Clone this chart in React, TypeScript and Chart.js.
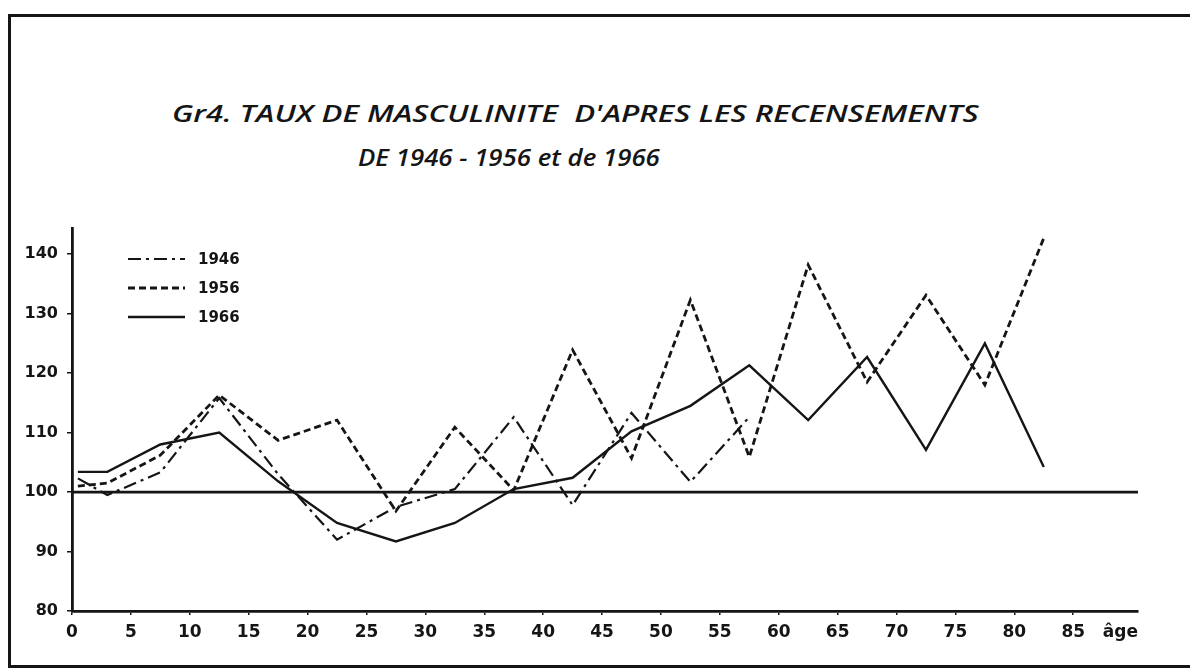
import React, { useEffect, useRef } from "react";
import { Chart, registerables } from "chart.js";

Chart.register(...registerables);

// Age-group midpoints (years)
const AGES = [0.5, 3, 7.5, 12.5, 17.5, 22.5, 27.5, 32.5, 37.5, 42.5, 47.5, 52.5, 57.5, 62.5, 67.5, 72.5, 77.5, 82.5];
// Masculinity rate (men per 100 women)
const TAUX_1946 = [102.3, 99.5, 103.3, 115.8, 103, 92, 97.5, 100.5, 112.6, 97.8, 113.3, 101.7, 112.6];
const TAUX_1956 = [101, 101.5, 106.2, 116.3, 108.7, 112.1, 96.8, 110.9, 100.3, 123.9, 105.7, 132.3, 105.9, 138.2, 118.5, 133.1, 118.0, 142.7];
const TAUX_1966 = [103.4, 103.4, 108, 110, 101.8, 94.8, 91.7, 94.8, 100.5, 102.4, 110.2, 114.5, 121.3, 112.1, 122.7, 107.1, 125.0, 104.2];

const SERIES_LABELS = ["1946", "1956", "1966"];
const X_TICKS = [0, 5, 10, 15, 20, 25, 30, 35, 40, 45, 50, 55, 60, 65, 70, 75, 80, 85];
const X_AXIS_LABEL = "âge";
const X_AXIS_LABEL_AT = 89;
const Y_TICKS = [80, 90, 100, 110, 120, 130, 140];
const REFERENCE_VALUE = 100;
const TITLE_LINE_1 = "Gr4. TAUX DE MASCULINITE  D'APRES LES RECENSEMENTS";
const TITLE_LINE_2 = "DE 1946 - 1956 et de 1966";

const INK = "#151515";
const LABEL_FONT = "'DejaVu Sans', 'Open Sans', sans-serif";
const TITLE_FONT = "'Open Sans', 'DejaVu Sans', sans-serif";

const toPoints = (vals: number[]) => vals.map((v, i) => ({ x: AGES[i], y: v }));

export default function App() {
  const canvasRef = useRef<HTMLCanvasElement | null>(null);

  useEffect(() => {
    const canvas = canvasRef.current;
    if (!canvas) return;

    const referenceLine = {
      id: "referenceLine",
      beforeDatasetsDraw(chart: any) {
        const { ctx, chartArea, scales } = chart;
        const y = scales.y.getPixelForValue(REFERENCE_VALUE);
        ctx.save();
        ctx.strokeStyle = INK;
        ctx.lineWidth = 2.8;
        ctx.beginPath();
        ctx.moveTo(chartArea.left, y);
        ctx.lineTo(chartArea.right, y);
        ctx.stroke();
        ctx.restore();
      },
    };

    const customLegend = {
      id: "customLegend",
      afterDraw(chart: any) {
        const { ctx, chartArea } = chart;
        ctx.save();
        chart.data.datasets.forEach((ds: any, i: number) => {
          const y = chartArea.top + 31 + i * 29;
          const x0 = chartArea.left + 56;
          ctx.strokeStyle = INK;
          ctx.lineWidth = ds.borderWidth;
          ctx.setLineDash(ds.borderDash || []);
          ctx.beginPath();
          ctx.moveTo(x0, y);
          ctx.lineTo(x0 + 57, y);
          ctx.stroke();
          ctx.setLineDash([]);
          ctx.fillStyle = INK;
          ctx.font = `bold 15px ${LABEL_FONT}`;
          ctx.textBaseline = "middle";
          ctx.textAlign = "left";
          ctx.fillText(ds.label, x0 + 70, y + 1);
        });
        ctx.restore();
      },
    };

    const chart = new Chart(canvas, {
      type: "line",
      data: {
        datasets: [
          {
            label: SERIES_LABELS[0],
            data: toPoints(TAUX_1946),
            borderColor: INK,
            borderWidth: 2.2,
            borderDash: [13, 5, 3, 5],
            pointRadius: 0,
            tension: 0,
            fill: false,
          },
          {
            label: SERIES_LABELS[1],
            data: toPoints(TAUX_1956),
            borderColor: INK,
            borderWidth: 2.8,
            borderDash: [7, 4],
            pointRadius: 0,
            tension: 0,
            fill: false,
          },
          {
            label: SERIES_LABELS[2],
            data: toPoints(TAUX_1966),
            borderColor: INK,
            borderWidth: 2.4,
            pointRadius: 0,
            tension: 0,
            fill: false,
          },
        ],
      },
      options: {
        animation: false,
        responsive: false,
        maintainAspectRatio: false,
        layout: { padding: { left: 0, top: 228, right: 52, bottom: 0 } },
        plugins: {
          legend: { display: false },
          tooltip: { enabled: false },
          title: { display: false },
        },
        scales: {
          x: {
            type: "linear",
            min: 0,
            max: 90.5,
            afterBuildTicks: (s: any) => {
              s.ticks = [...X_TICKS, X_AXIS_LABEL_AT].map((v) => ({ value: v }));
            },
            afterFit: (s: any) => {
              s.height = 60;
            },
            grid: {
              drawOnChartArea: false,
              drawTicks: true,
              tickLength: 4,
              lineWidth: 1.5,
              color: (c: any) => (c.tick && c.tick.value === X_AXIS_LABEL_AT ? "rgba(0,0,0,0)" : INK),
            },
            border: { display: true, color: INK, width: 2.8 },
            ticks: {
              autoSkip: false,
              maxRotation: 0,
              padding: 7,
              color: INK,
              font: { family: LABEL_FONT, size: 17, weight: "bold" as any },
              callback: (v: any) => (v === X_AXIS_LABEL_AT ? X_AXIS_LABEL : String(v)),
            },
          },
          y: {
            type: "linear",
            min: 80,
            max: 144.4,
            afterBuildTicks: (s: any) => {
              s.ticks = Y_TICKS.map((v) => ({ value: v }));
            },
            afterFit: (s: any) => {
              s.width = 72;
            },
            grid: {
              drawOnChartArea: false,
              drawTicks: true,
              tickLength: 5,
              lineWidth: 1.5,
              color: INK,
            },
            border: { display: true, color: INK, width: 2.8 },
            ticks: {
              padding: 9,
              color: INK,
              font: { family: LABEL_FONT, size: 16, weight: "bold" as any },
              callback: (v: any) => String(v),
            },
          },
        },
      },
      plugins: [referenceLine, customLegend],
    } as any);

    return () => chart.destroy();
  }, []);

  const titleStyle = {
    position: "absolute" as const,
    whiteSpace: "pre" as const,
    fontFamily: TITLE_FONT,
    fontStyle: "italic",
    fontWeight: 600,
    fontSize: 24,
    lineHeight: "32px",
    color: INK,
    transformOrigin: "left center",
  };

  return (
    <div
      style={{
        position: "fixed",
        left: 0,
        top: 0,
        width: 1190,
        height: 671,
        overflow: "hidden",
        background: "#fff",
      }}
    >
      <div
        style={{
          position: "absolute",
          left: 8,
          top: 14,
          width: 2400,
          height: 654,
          borderTop: `3px solid ${INK}`,
          borderLeft: `3px solid ${INK}`,
          borderBottom: `3px solid ${INK}`,
          borderRight: "none",
          boxSizing: "border-box",
        }}
      />
      <div style={{ ...titleStyle, left: 172, top: 97, transform: "scaleX(1.3)" }}>{TITLE_LINE_1}</div>
      <div style={{ ...titleStyle, left: 358, top: 141, transform: "scaleX(1.075)" }}>{TITLE_LINE_2}</div>
      <canvas
        ref={canvasRef}
        width={1190}
        height={671}
        style={{ position: "absolute", left: 0, top: 0, width: 1190, height: 671 }}
      />
    </div>
  );
}
